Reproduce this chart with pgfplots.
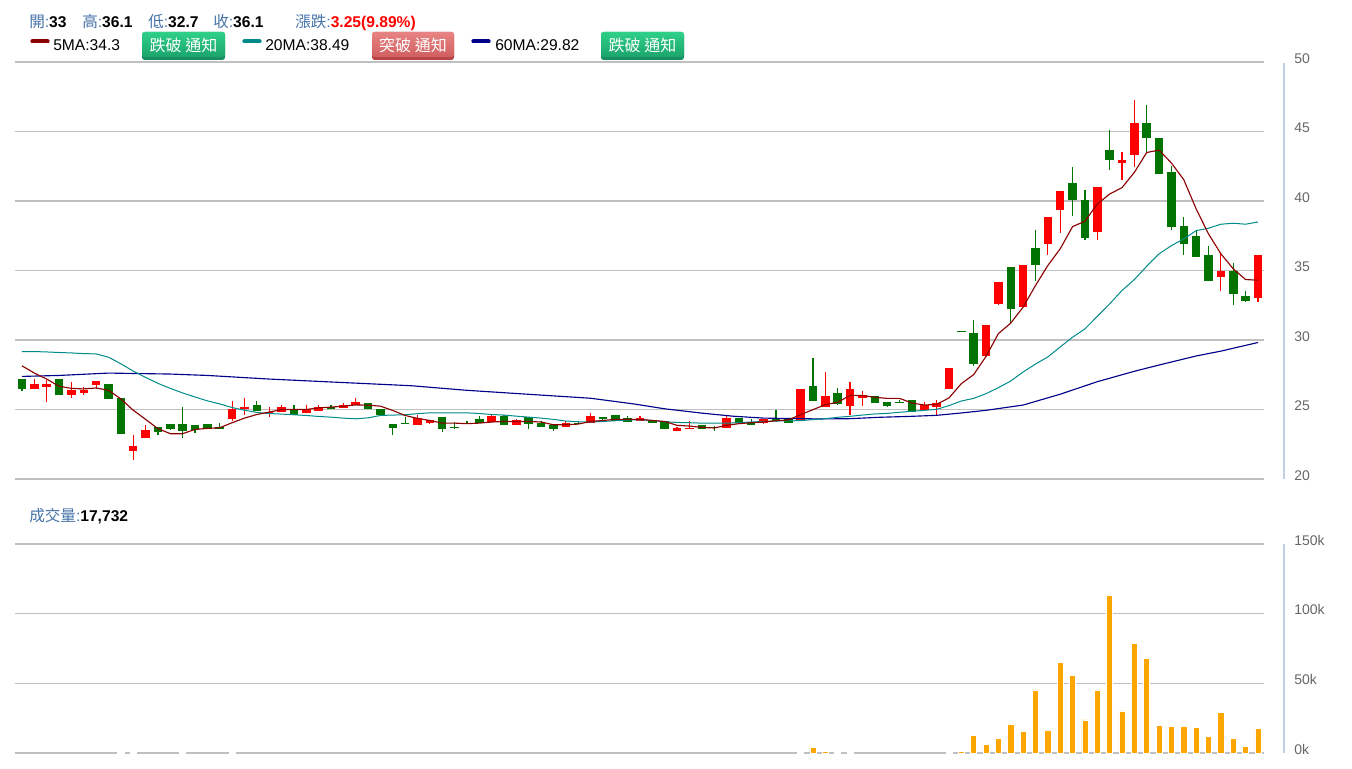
\documentclass[border=0pt]{standalone}
\usepackage{fontspec}
\setmainfont{Liberation Sans}
\newfontfamily\cjk{Noto Sans CJK TC}
\usepackage{pgfplots}
\usepackage{pgfplotstable}
\pgfplotsset{compat=1.18}
\definecolor{gridc}{HTML}{C0C0C0}
\definecolor{axisc}{HTML}{C0D0E0}
\definecolor{labc}{HTML}{4572A7}
\definecolor{tickc}{HTML}{666666}
\definecolor{upc}{HTML}{FF0000}
\definecolor{downc}{HTML}{007300}
\definecolor{maA}{HTML}{8B0000}
\definecolor{maB}{HTML}{008B8B}
\definecolor{maC}{HTML}{00008B}
\definecolor{volc}{HTML}{FFA500}
\pgfplotstableread{
i h l t b
1 27.19 26.5 26.86 26.5
2 27.1 25.57 26.86 26.6
4 26.95 25.8 26.38 26.05
5 26.6 26.05 26.43 26.2
6 27.02 26.5 27.02 26.76
9 23.2 21.38 22.4 22.05
10 23.86 22.95 23.5 22.95
17 25.64 24.17 25.07 24.29
18 25.83 24.64 25.17 25.0
20 25.17 24.48 24.83 24.67
21 25.33 24.83 25.17 24.83
23 25.33 24.74 25.07 24.74
24 25.33 24.9 25.17 24.9
26 25.48 25.12 25.33 25.12
27 25.83 25.33 25.57 25.33
32 24.6 23.86 24.38 23.86
33 24.25 23.98 24.21 24.02
38 24.64 24.1 24.5 24.1
40 24.33 23.86 24.21 23.86
44 24.14 23.76 24.05 23.76
46 24.76 24.0 24.5 24.0
50 24.5 24.14 24.4 24.14
53 23.76 23.48 23.67 23.48
54 24.2 23.57 23.69 23.57
57 24.64 23.67 24.38 23.67
60 24.29 23.93 24.29 24.0
63 26.47 24.27 26.47 24.27
65 27.67 25.18 26.0 25.18
67 26.95 24.63 26.47 25.28
68 26.3 25.28 26.04 25.83
73 25.56 24.99 25.35 24.99
74 25.7 24.63 25.47 25.18
75 27.99 26.5 27.99 26.5
78 31.08 28.82 31.08 28.82
79 34.15 32.5 34.15 32.57
81 35.4 32.37 35.4 32.37
83 38.88 36.08 38.88 36.91
84 40.74 37.68 40.74 39.38
87 41.03 37.22 41.03 37.78
89 43.52 41.5 42.97 42.73
90 47.25 42.44 45.6 43.3
97 36.32 33.5 34.95 34.5
100 36.1 32.7 36.1 33.0
}\upT
\pgfplotstableread{
i h l t b
0 27.19 26.31 27.19 26.48
3 27.19 26.05 27.19 26.05
7 26.86 25.76 26.86 25.76
8 25.83 23.26 25.83 23.26
11 23.71 23.14 23.71 23.36
12 23.95 23.5 23.95 23.62
13 25.17 22.95 23.95 23.43
14 23.86 23.33 23.86 23.52
15 23.95 23.62 23.95 23.62
16 24.05 23.62 23.74 23.62
19 25.64 24.9 25.33 24.9
22 25.33 24.64 25.0 24.64
25 25.33 25.0 25.17 25.07
28 25.48 25.0 25.48 25.0
29 25.07 24.64 25.07 24.64
30 23.95 23.14 23.95 23.67
31 24.45 23.93 24.0 23.93
34 24.48 23.38 24.48 23.62
35 24.1 23.57 23.74 23.67
36 24.2 23.98 24.05 23.98
37 24.5 24.02 24.33 24.02
39 24.57 23.86 24.5 23.86
41 24.45 23.57 24.45 23.98
42 24.2 23.76 24.02 23.76
43 23.86 23.48 23.86 23.57
45 24.2 23.95 24.02 23.95
47 24.45 24.2 24.45 24.33
48 24.57 24.17 24.57 24.17
49 24.5 24.1 24.4 24.1
51 24.24 24.02 24.24 24.02
52 24.19 23.57 24.19 23.57
55 23.9 23.57 23.9 23.57
56 23.8 23.48 23.71 23.65
58 24.38 24.0 24.38 24.0
59 24.33 23.86 24.1 23.86
61 24.93 24.19 24.33 24.19
62 24.29 24.02 24.29 24.02
64 28.7 25.59 26.67 25.59
66 26.57 25.3 26.19 25.42
69 25.95 25.47 25.95 25.47
70 25.56 25.18 25.56 25.28
71 25.7 25.47 25.56 25.47
72 25.7 24.84 25.7 24.84
76 30.68 30.61 30.68 30.61
77 31.41 28.15 30.5 28.3
80 35.24 31.22 35.24 32.2
82 37.94 34.21 36.6 35.36
85 42.42 38.9 41.29 40.1
86 40.81 37.22 40.1 37.32
88 45.12 42.25 43.64 42.92
91 46.9 43.5 45.6 44.5
92 44.55 41.96 44.55 41.96
93 42.54 37.94 42.06 38.16
94 38.88 36.08 38.23 36.91
95 37.94 36.0 37.46 36.0
96 36.75 34.21 36.08 34.28
98 35.55 32.54 34.95 33.3
99 33.56 32.73 33.16 32.82
}\downT
\pgfplotstableread{
i v
8 200
9 200
13 200
17 200
63 200
64 4000
65 1200
66 200
67 200
75 200
76 1200
77 12500
78 6000
79 10500
80 20900
81 15300
82 45300
83 16000
84 65000
85 55600
86 23700
87 45300
88 113400
89 30200
90 78900
91 67600
92 19900
93 18900
94 18900
95 18200
96 11800
97 29300
98 10500
99 5000
100 17732
}\volT
\begin{document}
\begin{tikzpicture}[x=1pt,y=1pt]
\newcommand{\lab}[1]{\textcolor{labc}{\cjk #1}\textcolor{labc}{:}}
\newcommand{\txt}[3]{\node[anchor=base west,inner sep=0pt,font=\fontsize{11.7pt}{13pt}\selectfont] at (#1*0.75pt,{(768-#2)*0.75pt}) {#3};}
\newcommand{\swatch}[3]{\draw[#3,line width=3pt,line cap=round] (#1*0.75pt+1pt,{(768-41.5)*0.75pt}) -- (#2*0.75pt-1pt,{(768-41.5)*0.75pt});}
\newcommand{\btn}[5]{%
\fill[#4,rounded corners=2pt] (#1*0.75pt,{(768-60)*0.75pt}) rectangle (#2*0.75pt,{(768-32)*0.75pt});
\shade[top color=#3,bottom color=#5,rounded corners=2pt] (#1*0.75pt,{(768-57)*0.75pt}) rectangle (#2*0.75pt,{(768-32)*0.75pt});
\node[white,inner sep=0pt,font=\cjk\fontsize{12pt}{13pt}\selectfont] at ({(#1+#2)*0.375pt},{(768-45)*0.75pt}) {跌破 通知};}
\newcommand{\btnr}[5]{%
\fill[#4,rounded corners=2pt] (#1*0.75pt,{(768-60)*0.75pt}) rectangle (#2*0.75pt,{(768-32)*0.75pt});
\shade[top color=#3,bottom color=#5,rounded corners=2pt] (#1*0.75pt,{(768-57)*0.75pt}) rectangle (#2*0.75pt,{(768-32)*0.75pt});
\node[white,inner sep=0pt,font=\cjk\fontsize{12pt}{13pt}\selectfont] at ({(#1+#2)*0.375pt},{(768-45)*0.75pt}) {突破 通知};}
\path[use as bounding box] (0,0) rectangle (1014pt,576pt);
\begin{axis}[
 name=price, scale only axis, at={(11.25pt,216.75pt)}, anchor=south west,
 width=936.75pt, height=312.75pt,
 xmin=-0.566, xmax=100.49, ymin=20, ymax=50,
 xtick=\empty, ytick={20,25,30,35,40,45,50},
 yticklabels={20,25,30,35,40,45,50},
 yticklabel pos=right, major tick length=0pt,
 axis line style={draw=none},
 ymajorgrids, grid style={gridc,line width=0.8pt},
 yticklabel style={font=\fontsize{10.5pt}{12pt}\selectfont,text=tickc,anchor=west,inner sep=0pt,xshift=22.5pt,yshift=2.8pt},
 clip=false,
]
\addplot[draw=none,no marks,forget plot,error bars/.cd,y dir=minus,y explicit,error mark=none,error bar style={line width=0.9pt,draw=upc}]
 table[x=i,y=h,y error expr=\thisrow{h}-\thisrow{l}] {\upT};
\addplot[draw=none,no marks,forget plot,error bars/.cd,y dir=minus,y explicit,error mark=none,error bar style={line width=6.4pt,draw=upc}]
 table[x=i,y=t,y error expr=\thisrow{t}-\thisrow{b}] {\upT};
\addplot[draw=none,no marks,forget plot,error bars/.cd,y dir=minus,y explicit,error mark=none,error bar style={line width=0.9pt,draw=downc}]
 table[x=i,y=h,y error expr=\thisrow{h}-\thisrow{l}] {\downT};
\addplot[draw=none,no marks,forget plot,error bars/.cd,y dir=minus,y explicit,error mark=none,error bar style={line width=6.4pt,draw=downc}]
 table[x=i,y=t,y error expr=\thisrow{t}-\thisrow{b}] {\downT};
\addplot[maC,line width=0.85pt,line join=round] coordinates {
(0,27.38)(3,27.45)(7,27.62)(12,27.55)(15,27.45)(20,27.19)(25,26.98)(31.5,26.71)(36,26.38)(41.4,26.07)(46,25.81)(49.5,25.4)(52,25.05)(55,24.74)(57.5,24.52)(60,24.38)(64.6,24.32)(67,24.34)(69.4,24.44)(72,24.51)(74,24.58)(76,24.75)(78,24.94)(81,25.32)(84,26.1)(87,27.0)(90,27.75)(92,28.2)(95,28.85)(97,29.2)(100,29.82)};
\addplot[maB,line width=0.75pt,line join=round] coordinates {
(0,29.17)(1,29.17)(2,29.14)(3,29.1)(4,29.07)(5,29.02)(6,29)(7,28.76)(8,28.29)(9,27.76)(10,27.31)(11,26.88)(12,26.52)(13,26.19)(14,25.9)(15,25.62)(16,25.4)(17,25.14)(18,24.95)(19,24.79)(20,24.71)(21,24.67)(22,24.62)(23,24.57)(24,24.5)(25,24.45)(26,24.38)(27,24.33)(28,24.4)(29,24.57)(30,24.6)(31,24.62)(32,24.7)(33,24.76)(34,24.76)(35,24.76)(36,24.76)(37,24.71)(38,24.64)(39,24.6)(40,24.52)(41,24.45)(42,24.38)(43,24.29)(44,24.17)(45,24.12)(46,24.1)(47,24.14)(48,24.19)(49,24.24)(50,24.26)(51,24.21)(52,24.12)(53,24.07)(54,24.05)(55,24.02)(56,24.02)(57,24.02)(58,24.05)(59,24.1)(60,24.14)(61,24.17)(62,24.18)(63,24.2)(64,24.27)(65,24.34)(66,24.44)(67,24.51)(68,24.6)(69,24.68)(70,24.72)(71,24.8)(72,24.87)(73,24.94)(74,25.01)(75,25.28)(76,25.61)(77,25.8)(78,26.14)(79,26.57)(80,27.05)(81,27.7)(82,28.27)(83,28.78)(84,29.5)(85,30.2)(86,30.8)(87,31.7)(88,32.6)(89,33.56)(90,34.35)(91,35.31)(92,36.2)(93,36.79)(94,37.27)(95,37.87)(96,38.04)(97,38.33)(98,38.4)(99,38.33)(100,38.49)};
\addplot[maA,line width=0.85pt,line join=round] coordinates {
(0,28.14)(1,27.62)(2,27.19)(3,26.67)(4,26.52)(5,26.48)(6,26.55)(7,26.38)(8,25.76)(9,24.95)(10,24.29)(11,23.62)(12,23.26)(13,23.26)(14,23.57)(15,23.64)(16,23.69)(17,24.05)(18,24.38)(19,24.64)(20,24.81)(21,25)(22,25)(23,25)(24,25.12)(25,25.17)(26,25.24)(27,25.33)(28,25.31)(29,25.24)(30,24.93)(31,24.57)(32,24.36)(33,24.21)(34,24.02)(35,24.02)(36,23.98)(37,24.02)(38,24.1)(39,24.14)(40,24.14)(41,24.14)(42,24.1)(43,23.9)(44,23.9)(45,23.95)(46,24.14)(47,24.21)(48,24.29)(49,24.29)(50,24.29)(51,24.21)(52,24.14)(53,23.86)(54,23.81)(55,23.71)(56,23.67)(57,23.86)(58,23.98)(59,24.05)(60,24.1)(61,24.19)(62,24.25)(63,24.63)(64,24.99)(65,25.35)(66,25.52)(67,26.02)(68,26)(69,25.88)(70,25.8)(71,25.8)(72,25.47)(73,25.32)(74,25.37)(75,25.83)(76,26.86)(77,27.51)(78,28.82)(79,30.46)(80,31.22)(81,32.37)(82,33.92)(83,35.36)(84,36.56)(85,38.16)(86,38.54)(87,39.78)(88,40.5)(89,40.96)(90,42.06)(91,43.49)(92,43.66)(93,42.73)(94,41.53)(95,39.43)(96,37.63)(97,36.2)(98,35.12)(99,34.35)(100,34.3)};
\end{axis}
\begin{axis}[
 name=vol, scale only axis, at={(11.25pt,11.25pt)}, anchor=south west,
 width=936.75pt, height=156.75pt,
 xmin=-0.566, xmax=100.49, ymin=0, ymax=150000,
 xtick=\empty, ytick={0,50000,100000,150000},
 yticklabels={0k,50k,100k,150k}, scaled y ticks=false,
 yticklabel pos=right, major tick length=0pt,
 axis line style={draw=none},
 ymajorgrids, grid style={gridc,line width=0.8pt},
 yticklabel style={font=\fontsize{10.5pt}{12pt}\selectfont,text=tickc,anchor=west,inner sep=0pt,xshift=22.5pt,yshift=2.8pt},
 clip=false,
]
\addplot[ybar,bar width=4.6pt,fill=volc,draw=white,line width=0.5pt] table[x=i,y=v] {\volT};
\end{axis}
\draw[axisc,line width=1.6pt] (963pt,{(768-63)*0.75pt}) -- (963pt,{(768-479)*0.75pt});
\draw[axisc,line width=1.6pt] (963pt,{(768-544)*0.75pt}) -- (963pt,{(768-753)*0.75pt});
\txt{29}{27.5}{\lab{開}\textbf{33}}
\txt{82}{27.5}{\lab{高}\textbf{36.1}}
\txt{148}{27.5}{\lab{低}\textbf{32.7}}
\txt{213}{27.5}{\lab{收}\textbf{36.1}}
\txt{295}{27.5}{\lab{漲跌}\textbf{\textcolor{upc}{3.25(9.89\%)}}}
\txt{29}{521}{\lab{成交量}\textbf{17,732}}
\swatch{31}{49}{maA}
\swatch{243}{261}{maB}
\swatch{472}{490}{maC}
\txt{53}{50.5}{5MA:34.3}
\txt{265}{50.5}{20MA:38.49}
\txt{495}{50.5}{60MA:29.82}
\definecolor{gt}{HTML}{2FD088}
\definecolor{gb}{HTML}{1BA46C}
\definecolor{gd}{HTML}{178F60}
\definecolor{rt}{HTML}{E88383}
\definecolor{rb}{HTML}{D05F5F}
\definecolor{rd}{HTML}{B84545}
\btn{142}{225}{gt}{gd}{gb}
\btnr{372}{454}{rt}{rd}{rb}
\btn{601}{684}{gt}{gd}{gb}
\end{tikzpicture}
\end{document}
